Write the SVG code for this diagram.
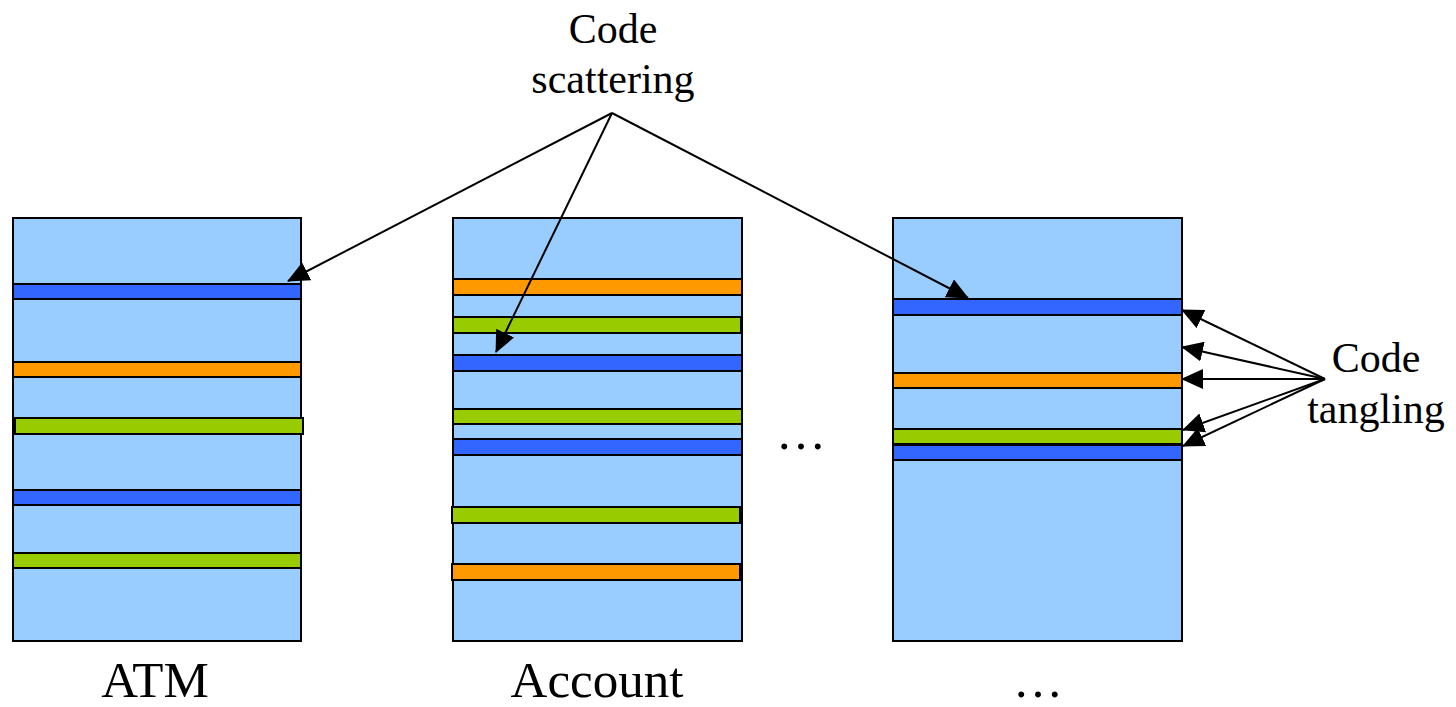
<svg xmlns="http://www.w3.org/2000/svg" width="1456" height="707" viewBox="0 0 1456 707">
<defs>
<style>
.box{fill:#99CCFF;stroke:#000;stroke-width:2}
.b{fill:#3366FF;stroke:#000;stroke-width:2}
.o{fill:#FF9900;stroke:#000;stroke-width:2}
.g{fill:#99CC00;stroke:#000;stroke-width:2}
.t{font-family:"Liberation Serif","Times New Roman",serif;fill:#000;text-anchor:middle}
.c{stroke:#000;stroke-width:2;fill:none;marker-end:url(#ah)}
</style>
<marker id="ah" markerUnits="userSpaceOnUse" viewBox="0 0 22 20" refX="21" refY="10" markerWidth="22" markerHeight="20" orient="auto">
<path d="M0,0 L22,10 L0,20 z" fill="#000"/>
</marker>
</defs>
<rect width="1456" height="707" fill="#fff"/>
<g id="atm">
<rect class="box" x="13" y="218" width="288" height="423"/>
<rect class="b" x="13" y="284" width="288" height="15"/>
<rect class="o" x="13" y="362" width="288" height="15"/>
<rect class="g" x="15" y="418" width="288" height="16"/>
<rect class="b" x="13" y="490" width="288" height="15"/>
<rect class="g" x="13" y="553" width="288" height="15"/>
<text class="t" x="155" y="697" font-size="51">ATM</text>
</g>
<g id="account">
<rect class="box" x="453" y="218" width="289" height="423"/>
<rect class="o" x="453" y="279" width="289" height="16"/>
<rect class="g" x="453" y="317" width="288" height="16"/>
<rect class="b" x="453" y="355" width="289" height="16"/>
<rect class="g" x="453" y="409" width="289" height="15"/>
<rect class="b" x="453" y="439" width="289" height="16"/>
<rect class="g" x="452" y="507" width="288" height="16"/>
<rect class="o" x="452" y="564" width="288" height="16"/>
<text class="t" x="597" y="697" font-size="51">Account</text>
</g>
<g id="other">
<rect class="box" x="893" y="218" width="289" height="423"/>
<rect class="b" x="893" y="299" width="289" height="16"/>
<rect class="o" x="893" y="373" width="289" height="15"/>
<rect class="g" x="893" y="429" width="289" height="15"/>
<rect class="b" x="893" y="445" width="289" height="15"/>
<text class="t" x="1038" y="697" font-size="50">…</text>
</g>
<g id="ellipsis">
<text class="t" x="801" y="449" font-size="50">…</text>
</g>
<g id="scattering">
<text class="t" x="613" y="43" font-size="42">Code</text>
<text class="t" x="613" y="93" font-size="42">scattering</text>
</g>
<g id="tangling">
<text class="t" x="1376" y="372" font-size="42">Code</text>
<text class="t" x="1376" y="423" font-size="42">tangling</text>
</g>
<g id="connectors">
<line class="c" x1="612" y1="113" x2="288" y2="281"/>
<line class="c" x1="612" y1="113" x2="496" y2="352"/>
<line class="c" x1="612" y1="113" x2="968" y2="298"/>
<line class="c" x1="1325" y1="379" x2="1182" y2="310"/>
<line class="c" x1="1325" y1="379" x2="1182" y2="347"/>
<line class="c" x1="1325" y1="379" x2="1182" y2="379"/>
<line class="c" x1="1325" y1="379" x2="1183" y2="430"/>
<line class="c" x1="1325" y1="379" x2="1183" y2="446"/>
</g>
</svg>
